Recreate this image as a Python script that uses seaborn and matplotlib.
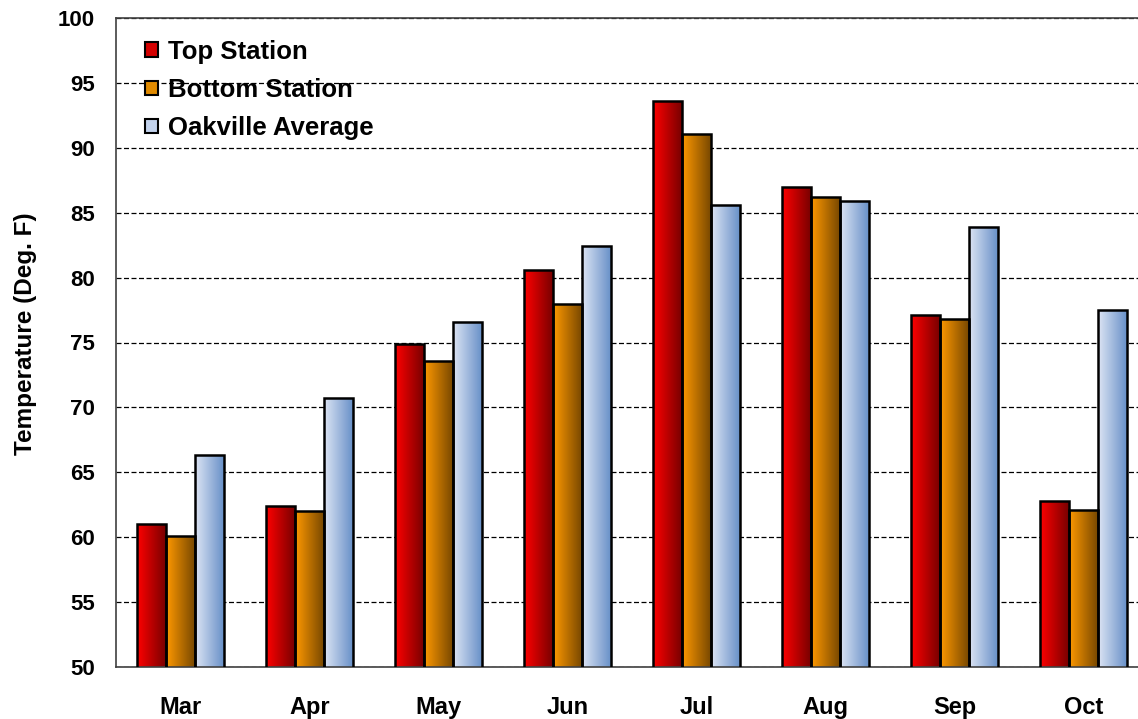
import numpy as np
import pandas as pd
import matplotlib
matplotlib.use("Agg")
import matplotlib.pyplot as plt
from matplotlib.colors import LinearSegmentedColormap
from matplotlib.patches import Patch
import seaborn as sns

# Monthly mean temperatures (Deg. F)
months = ["Mar", "Apr", "May", "Jun", "Jul", "Aug", "Sep", "Oct"]
series = ["Top Station", "Bottom Station", "Oakville Average"]
top_station = [61.0, 62.4, 74.9, 80.6, 93.6, 87.0, 77.1, 62.8]
bottom_station = [60.1, 62.0, 73.6, 78.0, 91.1, 86.2, 76.8, 62.1]
oakville_avg = [66.3, 70.7, 76.6, 82.4, 85.6, 85.9, 83.9, 77.5]

df = pd.DataFrame({
    "Month": months * 3,
    "Series": [series[0]] * 8 + [series[1]] * 8 + [series[2]] * 8,
    "Temp": top_station + bottom_station + oakville_avg,
})

Y_MIN, Y_MAX = 50, 100

# left-to-right shading for each series (light side, dark side)
shades = {
    "Top Station": ("#ff0000", "#780000"),
    "Bottom Station": ("#ff9900", "#784800"),
    "Oakville Average": ("#dde5f4", "#6890c8"),
}
legend_colors = {
    "Top Station": "#d40000",
    "Bottom Station": "#e08a00",
    "Oakville Average": "#c2d2ec",
}

sns.set_style("white")
plt.rcParams["font.family"] = ["Liberation Sans", "DejaVu Sans"]
plt.rcParams["text.color"] = "black"
plt.rcParams["xtick.color"] = "black"
plt.rcParams["ytick.color"] = "black"
plt.rcParams["axes.labelcolor"] = "black"

fig = plt.figure(figsize=(11.38, 7.19), dpi=100)
ax = fig.add_axes([116 / 1138, 52 / 719, 1022 / 1138, 649 / 719])

sns.barplot(data=df, x="Month", y="Temp", hue="Series", order=months,
            hue_order=series, palette=legend_colors, width=0.67,
            edgecolor="black", linewidth=1.8, ax=ax, legend=False,
            zorder=3)

# horizontal gradient fill clipped to every bar
grad = np.linspace(0, 1, 256).reshape(1, -1)
for cont, name in zip(ax.containers, series):
    cmap = LinearSegmentedColormap.from_list(name, list(shades[name]))
    for bar in cont:
        x0 = bar.get_x()
        w = bar.get_width()
        top = bar.get_y() + bar.get_height()
        im = ax.imshow(grad, cmap=cmap, aspect="auto",
                       extent=(x0, x0 + w, Y_MIN, top), zorder=2.5,
                       origin="lower")
        im.set_clip_path(bar)
        bar.set_facecolor("none")

ax.set_ylim(Y_MIN, Y_MAX)
ax.set_xlim(-0.5, 7.5 - 10 / 129)
ax.set_yticks(np.arange(Y_MIN, Y_MAX + 1, 5))
ax.yaxis.grid(True, linestyle=(0, (4, 2)), color="black", linewidth=0.9)
ax.set_axisbelow(True)

for side in ["left", "bottom", "top"]:
    ax.spines[side].set_visible(True)
    ax.spines[side].set_color("#404040")
    ax.spines[side].set_linewidth(1.2)
ax.spines["right"].set_visible(False)

ax.tick_params(axis="y", labelsize=16, pad=15, length=0)
ax.tick_params(axis="x", labelsize=17, pad=21, length=0)
for lbl in ax.get_xticklabels() + ax.get_yticklabels():
    lbl.set_fontweight("bold")

ax.set_xlabel("")
ax.set_ylabel("Temperature (Deg. F)", fontsize=17.5, fontweight="bold")
ax.yaxis.set_label_coords(-0.077, 0.514)

handles = [Patch(facecolor=legend_colors[s], edgecolor="black",
                 linewidth=1.5, label=s) for s in series]
leg = ax.legend(handles=handles, loc="upper left", frameon=False,
                bbox_to_anchor=(0.013, 0.99), fontsize=18.5,
                handlelength=0.5, handleheight=0.5, handletextpad=0.4,
                labelspacing=0.55, borderaxespad=0.2)
for t in leg.get_texts():
    t.set_fontweight("bold")

fig.savefig("out.png", dpi=100)
